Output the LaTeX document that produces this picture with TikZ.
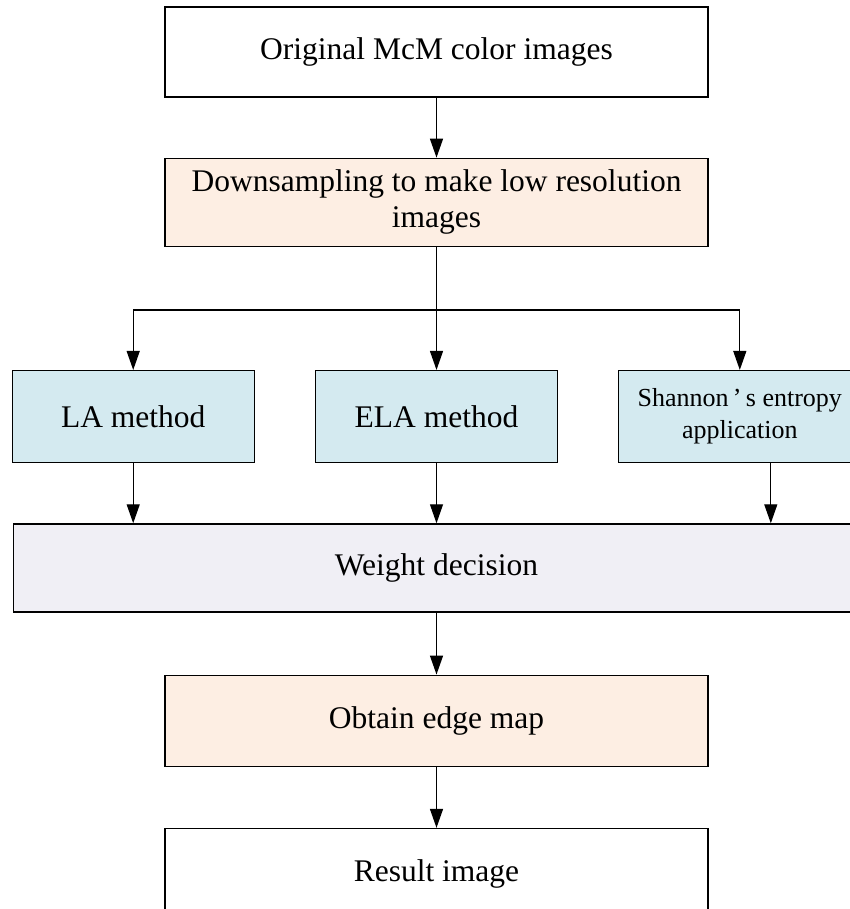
\documentclass[tikz,border=0pt]{standalone}
\usepackage{fontspec}
\setmainfont{Liberation Serif}
\usetikzlibrary{positioning, arrows.meta}
\definecolor{peach}{HTML}{FDEEE3}
\definecolor{paleblue}{HTML}{D4EAF0}
\definecolor{lavender}{HTML}{F0EFF5}

\begin{document}
\begin{tikzpicture}[x=1pt, y=1pt, >={Triangle[length=19pt, width=13pt]}, node distance=60pt,
    stagebox/.style={draw, rectangle, align=center, line width=1.3pt, inner sep=4pt, minimum width=543pt, minimum height=90pt, font=\fontsize{31.5}{36}\selectfont},
    methodbox/.style={stagebox, fill=paleblue, minimum width=242pt, minimum height=92pt}]
    \useasboundingbox (0,0) rectangle (849,-909);

    \node[stagebox] (v1) at (436.5,-52) {Original McM color images};
    \node[stagebox, fill=peach, minimum height=88pt] (v2) [below=60pt of v1] {Downsampling to make low resolution \\ images};
    \node[methodbox] (v4) [below=123pt of v2] {ELA method};
    \node[methodbox] (v3) [left=60pt of v4] {LA method};
    \node[methodbox, font=\fontsize{26}{32}\selectfont] (v5) [right=60pt of v4] {Shannon\,’\,s entropy \\ application};
    \node[stagebox, fill=lavender, minimum width=846pt, minimum height=88pt] (v6) [below=60pt of v4] {Weight decision};
    \node[stagebox, fill=peach, minimum height=91pt] (v7) [below=62pt of v6] {Obtain edge map};
    \node[stagebox] (v8) [below=61pt of v7] {Result image};

    \draw [->, line width=1.3pt] (v1) -- (v2);
    \draw [line width=1.3pt] (v2.south) -- ++(0,-63) coordinate (b0);
    \draw [->, line width=1.3pt] (b0) -| (v3.north);
    \draw [->, line width=1.3pt] (b0) -- (v4.north);
    \draw [->, line width=1.3pt] (b0) -| (v5.north);

    \draw [->, line width=1.3pt] (v3.south) -- (v3.south |- v6.north);
    \draw [->, line width=1.3pt] (v4.south) -- (v6.north);
    \draw [->, line width=1.3pt] ([xshift=31pt]v5.south) -- ([xshift=31pt]v5.south |- v6.north);
    \draw [->, line width=1.3pt] (v6) -- (v7);
    \draw [->, line width=1.3pt] (v7) -- (v8);
\end{tikzpicture}
\end{document}
